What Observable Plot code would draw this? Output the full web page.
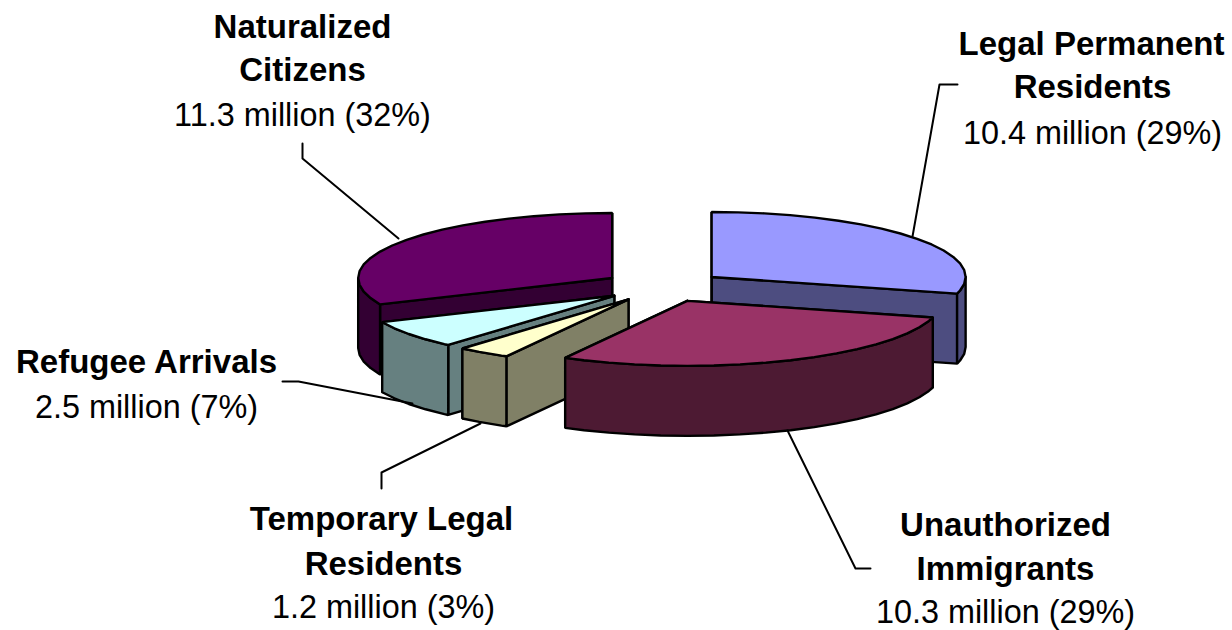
<!DOCTYPE html>
<html>
<head>
<meta charset="utf-8">
<script src="https://cdn.jsdelivr.net/npm/d3@7"></script>
<script src="https://cdn.jsdelivr.net/npm/@observablehq/plot@0.6"></script>
<style>
html,body{margin:0;padding:0;background:#fff}
svg{display:block}
</style>
</head>
<body>
<div id="chart"></div>
<script>
// Data, clockwise from 12 o'clock
const categories = ["Legal Permanent Residents", "Unauthorized Immigrants", "Temporary Legal Residents", "Refugee Arrivals", "Naturalized Citizens"];
const millions = [10.4, 10.3, 1.2, 2.5, 11.3];
const topColors = ["#9999ff", "#993366", "#ffffcc", "#ccffff", "#660066"];
const wallColors = ["#4d4d80", "#4d1a33", "#808066", "#668080", "#330033"];
const drawOrder = [4, 0, 3, 2, 1];

// Label text
const labelLines = [
  {text: "Naturalized", x: 302, y: 37, bold: true},
  {text: "Citizens", x: 302, y: 80, bold: true},
  {text: "11.3 million (32%)", x: 302, y: 125, bold: false},
  {text: "Legal Permanent", x: 1091, y: 54, bold: true},
  {text: "Residents", x: 1092, y: 97, bold: true},
  {text: "10.4 million (29%)", x: 1092, y: 143, bold: false},
  {text: "Refugee Arrivals", x: 146, y: 372, bold: true},
  {text: "2.5 million (7%)", x: 146, y: 417, bold: false},
  {text: "Temporary Legal", x: 381, y: 529, bold: true},
  {text: "Residents", x: 383, y: 574, bold: true},
  {text: "1.2 million (3%)", x: 383, y: 617, bold: false},
  {text: "Unauthorized", x: 1005, y: 535, bold: true},
  {text: "Immigrants", x: 1005, y: 579, bold: true},
  {text: "10.3 million (29%)", x: 1005, y: 622, bold: false}
];
const leaders = [
  {id: "nat", pts: [[302, 143], [302, 158], [398, 238]]},
  {id: "lpr", pts: [[957, 84], [939, 84], [912, 236]]},
  {id: "ref", pts: [[282, 381], [298, 381], [412, 403]]},
  {id: "tmp", pts: [[381, 488], [381, 472], [480, 423]]},
  {id: "una", pts: [[870, 568], [855, 568], [787, 430]]}
];

// Projection of the tilted, exploded pie
const cx = 662.8, cy = 286, rx = 254, ry = 65, depth = 70, explode = 0.24, step = 6;
const total = d3.sum(millions);
const rad = Math.PI / 180;
let running = 0;
const wedges = categories.map((name, i) => {
  const a0 = running / total * 360;
  running += millions[i];
  const a1 = running / total * 360;
  const mid = (a0 + a1) / 2 * rad;
  return {
    name, a0, a1,
    top: topColors[i], wall: wallColors[i],
    ax: cx + explode * rx * Math.sin(mid),
    ay: cy - explode * ry * Math.cos(mid)
  };
});
function rimPoint(w, deg, drop = 0) {
  return [w.ax + rx * Math.sin(deg * rad), w.ay - ry * Math.cos(deg * rad) + drop];
}
function arc(a0, a1) {
  const out = [a0];
  for (let a = Math.ceil(a0 / step) * step; a < a1; a += step) if (a > a0) out.push(a);
  out.push(a1);
  return out;
}
const polys = [];
function addPoly(id, color, pts) {
  [...pts, pts[0]].forEach(p => polys.push({id, color, x: p[0], y: p[1]}));
}
drawOrder.forEach(i => {
  const w = wedges[i];
  const apex = [w.ax, w.ay], apexLow = [w.ax, w.ay + depth];
  addPoly(w.name + " end", w.wall, [apex, rimPoint(w, w.a1), rimPoint(w, w.a1, depth), apexLow]);
  addPoly(w.name + " start", w.wall, [apex, rimPoint(w, w.a0), rimPoint(w, w.a0, depth), apexLow]);
  const f0 = Math.max(w.a0, 90), f1 = Math.min(w.a1, 270);
  if (f1 > f0) {
    const angles = arc(f0, f1);
    addPoly(w.name + " rim", w.wall, [
      ...angles.map(a => rimPoint(w, a)),
      ...angles.slice().reverse().map(a => rimPoint(w, a, depth))
    ]);
  }
  addPoly(w.name + " top", w.top, [apex, ...arc(w.a0, w.a1).map(a => rimPoint(w, a))]);
});
const leaderRows = leaders.flatMap(l => l.pts.map(p => ({id: l.id, x: p[0], y: p[1]})));

const font = {fontFamily: "Liberation Sans, Arial, sans-serif", lineAnchor: "bottom", textAnchor: "middle", fill: "#000"};
const chart = Plot.plot({
  width: 1232,
  height: 630,
  margin: 0,
  style: {background: "#fff"},
  x: {domain: [0, 1232], range: [0, 1232], axis: null},
  y: {domain: [0, 630], range: [0, 630], axis: null},
  color: {type: "identity"},
  marks: [
    Plot.line(polys, {x: "x", y: "y", z: "id", fill: "color", stroke: "#000", strokeWidth: 2.4, strokeLinejoin: "miter", curve: "linear"}),
    Plot.line(leaderRows, {x: "x", y: "y", z: "id", stroke: "#000", strokeWidth: 2, curve: "linear"}),
    Plot.text(labelLines.filter(d => d.bold), {x: "x", y: "y", text: "text", fontWeight: "bold", fontSize: 33, ...font}),
    Plot.text(labelLines.filter(d => !d.bold), {x: "x", y: "y", text: "text", fontSize: 32.4, ...font})
  ]
});
document.getElementById("chart").append(chart);
</script>
</body>
</html>
